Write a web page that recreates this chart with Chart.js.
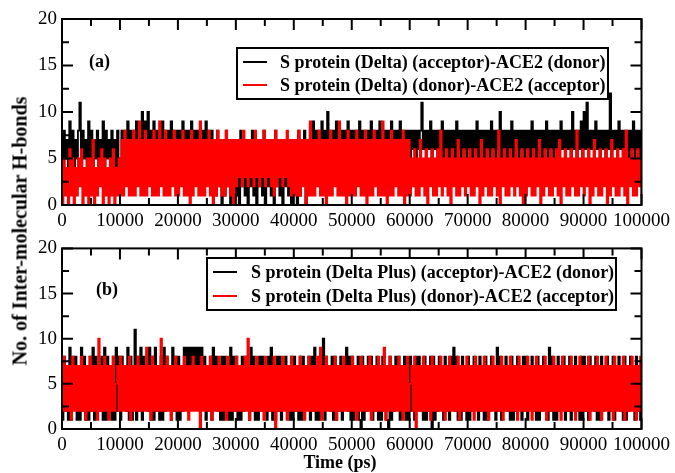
<!DOCTYPE html>
<html>
<head>
<meta charset="utf-8">
<script src="https://cdn.jsdelivr.net/npm/chart.js@4.4.0/dist/chart.umd.min.js"></script>
<style>
    html, body { margin: 0; padding: 0; background: #fff; }
    #wrap { position: relative; width: 675px; height: 473px; overflow: hidden; }
    #chartA { position: absolute; left: 0; top: 0; }
    #chartB { position: absolute; left: 0; top: 232px; }
    #ytitle {
        position: absolute; left: 20px; top: 231px;
        transform: translate(-50%, -50%) rotate(-90deg);
        font: bold 20px "Liberation Serif", "DejaVu Serif", serif;
        white-space: nowrap; color: #000;
    }
    #xtitle {
        position: absolute; left: 340px; top: 462px;
        transform: translate(-50%, -50%);
        font: bold 18px "Liberation Serif", "DejaVu Serif", serif;
        white-space: nowrap; color: #000;
    }
</style>
</head>
<body>
<div id="wrap">
    <canvas id="chartA" width="675" height="232"></canvas>
    <canvas id="chartB" width="675" height="241"></canvas>
    <div id="ytitle">No. of Inter-molecular H-bonds</div>
    <div id="xtitle">Time (ps)</div>
</div>
<script>
// simulation length and axis ticks
const simLengthPs = 100000;
const xTicks = [0, 10000, 20000, 30000, 40000, 50000, 60000, 70000, 80000, 90000, 100000];
const yTicks = [0, 5, 10, 15, 20];

const labelsA = ['S protein (Delta) (acceptor)-ACE2 (donor)', 'S protein (Delta) (donor)-ACE2 (acceptor)'];
const labelsB = ['S protein (Delta Plus) (acceptor)-ACE2 (donor)', 'S protein (Delta Plus) (donor)-ACE2 (acceptor)'];

// (a) Delta, S protein acceptor / ACE2 donor (black), one row per 10 ns
const deltaAcceptor = [
    4,8,5,7,4,9,5,8,4,7,5,8,11,4,8,5,7,4,9,5,8,4,7,5,8,4,7,5,9,4,8,5,7,4,8,5,7,4,8,5,
    5,8,6,8,5,9,6,8,5,8,6,9,5,8,6,10,5,9,6,10,5,8,6,9,5,8,6,8,5,9,6,8,5,8,6,9,5,8,6,8,
    5,8,6,9,5,8,6,8,5,9,6,8,5,8,6,8,5,8,6,9,5,8,6,8,2,7,1,8,2,6,0,7,1,8,2,7,0,6,2,7,
    1,7,0,8,2,6,1,7,0,7,2,8,1,6,0,7,2,7,1,8,0,6,2,7,1,7,0,8,2,6,1,7,0,7,2,7,1,6,0,7,
    2,7,0,8,1,7,3,8,0,7,4,8,5,9,4,8,5,8,4,9,5,8,4,10,5,8,4,8,5,9,4,8,5,8,4,8,5,9,4,8,
    5,8,4,8,5,9,4,8,5,8,4,8,5,9,4,8,5,8,4,9,5,8,4,8,5,8,4,9,5,8,4,8,5,9,4,8,5,8,4,8,
    5,8,6,8,5,8,6,8,11,6,8,5,8,6,9,5,8,6,8,5,8,6,9,5,8,6,8,5,8,6,8,5,9,6,8,5,8,6,8,5,
    8,6,8,5,8,6,9,5,8,6,8,5,8,6,8,5,9,6,8,5,8,6,10,5,8,6,8,5,8,6,9,5,8,6,8,5,8,6,8,5,
    8,6,8,5,9,6,8,5,8,6,8,5,8,6,9,5,8,6,8,5,8,6,8,5,9,6,8,5,8,6,8,5,10,6,8,5,8,6,9,5,
    10,6,11,5,8,6,8,5,9,6,8,5,8,6,8,5,8,6,12,5,8,6,8,5,9,6,8,5,8,6,8,5,8,6,9,5,8,6,8,5,8
];

// (a) Delta, S protein donor / ACE2 acceptor (red)
const deltaDonor = [
    0,5,1,4,0,6,1,5,0,4,1,5,2,6,0,4,1,5,0,5,1,7,0,4,1,5,2,6,0,5,1,4,0,5,1,6,0,4,1,5,
    1,7,1,8,2,7,1,7,1,8,1,7,2,9,1,7,1,8,1,7,2,7,1,8,1,7,1,9,2,7,1,8,1,7,1,7,2,8,1,7,
    1,7,2,8,1,7,1,7,0,8,1,7,2,7,1,9,1,7,1,7,2,8,1,7,0,7,1,8,2,7,1,7,1,8,2,7,1,7,0,7,
    2,7,3,7,2,8,3,7,2,7,3,7,2,8,3,7,2,7,3,8,2,7,3,7,2,7,1,8,2,7,3,7,2,7,3,8,2,7,1,7,
    1,7,1,8,1,7,2,7,0,7,1,9,1,7,1,7,2,8,1,7,1,7,0,7,1,8,1,7,2,7,1,9,1,7,1,7,0,8,1,7,
    1,7,1,8,2,7,1,7,1,8,0,7,1,7,1,8,2,7,1,7,1,9,1,7,0,7,1,8,1,7,2,7,1,7,1,8,0,7,1,7,
    1,5,2,6,1,5,1,7,2,5,1,6,0,5,2,6,1,5,1,6,2,8,1,5,2,6,1,5,0,6,2,5,1,7,1,5,2,6,1,5,
    2,6,1,5,1,6,2,5,0,7,1,5,2,6,1,5,1,6,2,5,1,8,0,5,2,6,1,5,1,6,2,5,1,7,2,5,1,6,0,5,
    1,6,2,5,1,6,1,5,2,7,0,5,1,6,2,5,1,6,1,5,2,6,1,7,0,5,2,6,1,5,1,6,2,5,1,8,1,5,2,6,
    1,5,2,6,0,5,1,7,2,5,1,6,1,5,2,6,0,5,1,7,2,5,1,6,1,5,2,6,1,8,0,5,2,6,1,5,1,6,2,5,1
];

// (b) Delta Plus, S protein acceptor / ACE2 donor (black)
const deltaPlusAcceptor = [
    1,8,2,7,1,9,1,8,3,8,1,7,1,9,2,8,1,7,1,8,2,9,1,8,3,7,2,8,1,9,1,8,2,7,1,8,1,9,2,8,
    1,8,3,7,2,9,1,8,1,7,11,1,8,2,9,1,8,3,7,2,9,1,8,1,9,2,7,1,8,1,9,2,8,3,7,1,9,2,8,1,
    8,1,7,2,9,6,9,6,9,7,9,6,9,6,9,7,9,6,8,1,7,2,8,1,9,3,8,2,7,1,8,1,8,2,7,1,9,1,8,2,
    8,1,7,1,8,2,8,3,7,1,9,2,8,1,7,1,8,2,8,3,7,1,8,2,9,1,7,1,8,2,8,1,7,3,8,2,7,1,8,1,
    8,2,7,1,8,1,8,2,7,3,8,1,8,2,9,1,7,1,8,2,10,1,8,3,7,2,8,1,8,1,7,2,8,1,7,3,9,2,8,1,
    8,1,7,2,8,1,0,8,1,7,2,8,3,8,1,7,2,8,1,7,1,8,2,7,1,0,8,1,7,2,8,3,8,1,7,2,8,1,7,1,
    8,2,7,1,8,3,8,2,7,1,8,1,7,2,8,0,8,1,7,2,8,3,7,1,8,2,7,1,8,3,9,2,8,1,7,1,8,2,7,1,
    8,1,7,2,8,3,7,1,8,2,7,1,8,1,7,2,8,3,7,1,9,2,8,1,7,3,8,2,7,1,8,1,7,2,8,3,7,1,8,2,
    8,1,7,3,8,2,7,1,8,1,7,2,8,3,7,1,9,2,8,1,7,1,8,2,7,3,8,1,7,2,8,1,7,3,8,2,7,1,8,1,
    8,2,7,1,8,3,7,2,8,1,7,1,8,2,7,3,8,1,7,2,8,1,7,3,8,2,7,1,8,1,7,2,8,3,7,1,8,2,7,1,8
];

// (b) Delta Plus, S protein donor / ACE2 acceptor (red)
const deltaPlusDonor = [
    2,8,2,7,2,7,1,8,2,7,2,7,2,8,2,7,1,7,2,8,2,7,2,7,1,10,2,7,2,8,2,7,1,7,2,8,2,5,7,2,
    8,2,7,2,7,2,8,1,7,2,7,2,8,2,7,2,7,2,9,2,7,1,8,2,7,2,7,2,10,2,7,2,8,2,7,1,7,2,8,2,
    7,2,7,2,8,2,7,1,7,2,8,2,7,2,7,0,8,2,7,2,7,2,8,1,7,2,7,2,8,2,7,2,7,1,8,2,7,2,7,2,
    8,2,7,2,7,2,8,2,10,1,7,2,7,2,8,2,7,2,7,1,8,2,7,2,7,2,8,0,7,2,7,2,8,2,7,1,7,2,8,2,
    7,2,7,2,8,2,7,1,7,2,8,2,7,2,7,2,8,2,9,1,7,2,8,2,7,2,7,2,8,1,7,2,7,2,8,2,7,2,7,2,
    8,2,7,1,7,2,8,2,7,2,7,2,8,1,7,2,7,2,8,2,7,2,9,1,7,2,8,2,7,2,7,2,8,2,7,1,7,2,8,2,
    5,7,2,8,0,7,2,7,2,8,2,7,2,7,1,8,2,7,2,7,2,8,2,7,1,7,2,8,2,7,2,7,2,8,1,7,2,7,2,8,
    2,7,2,7,1,8,2,7,2,7,2,8,2,7,1,7,2,8,2,7,2,7,2,8,1,7,2,7,2,8,2,7,2,7,1,8,2,7,2,7,
    2,8,2,7,1,7,2,8,2,7,2,7,2,8,1,7,2,7,2,8,2,7,2,7,1,8,2,7,2,7,2,8,2,7,1,7,2,8,2,7,
    2,7,2,8,1,7,2,7,2,8,2,7,1,7,2,8,2,7,2,7,1,8,2,7,2,7,2,8,1,7,2,7,2,8,2,7,1,7,2,8,2
];

const serif = '"Liberation Serif", "DejaVu Serif", serif';

function toPoints(values) {
    const dt = simLengthPs / (values.length - 1);
    return values.map((v, i) => ({ x: i * dt, y: v }));
}

// inward ticks on all four sides plus the frame, xmgrace style
const frameTicks = {
    id: 'frameTicks',
    afterDatasetsDraw(chart) {
        const { ctx, chartArea: a, scales } = chart;
        const x = scales.x, y = scales.y;
        ctx.save();
        ctx.strokeStyle = '#000';
        ctx.lineWidth = 2;
        ctx.beginPath();
        for (let i = 0; i < xTicks.length; i++) {
            const major = x.getPixelForValue(xTicks[i]);
            ctx.moveTo(major, a.bottom); ctx.lineTo(major, a.bottom - 11);
            ctx.moveTo(major, a.top); ctx.lineTo(major, a.top + 11);
            if (i < xTicks.length - 1) {
                const minor = x.getPixelForValue((xTicks[i] + xTicks[i + 1]) / 2);
                ctx.moveTo(minor, a.bottom); ctx.lineTo(minor, a.bottom - 7);
                ctx.moveTo(minor, a.top); ctx.lineTo(minor, a.top + 7);
            }
        }
        for (let i = 0; i < yTicks.length; i++) {
            const major = y.getPixelForValue(yTicks[i]);
            ctx.moveTo(a.left, major); ctx.lineTo(a.left + 11, major);
            ctx.moveTo(a.right, major); ctx.lineTo(a.right - 11, major);
            if (i < yTicks.length - 1) {
                const minor = y.getPixelForValue((yTicks[i] + yTicks[i + 1]) / 2);
                ctx.moveTo(a.left, minor); ctx.lineTo(a.left + 7, minor);
                ctx.moveTo(a.right, minor); ctx.lineTo(a.right - 7, minor);
            }
        }
        ctx.stroke();
        ctx.strokeRect(a.left, a.top, a.right - a.left, a.bottom - a.top);
        ctx.restore();
    }
};

// boxed legend and panel tag inside the plot
const boxLegend = {
    id: 'boxLegend',
    afterDraw(chart, args, opts) {
        const { ctx } = chart;
        const [l, t, r, b] = opts.box;
        ctx.save();
        ctx.fillStyle = '#fff';
        ctx.fillRect(l, t, r - l, b - t);
        ctx.strokeStyle = '#000';
        ctx.lineWidth = 2;
        ctx.strokeRect(l, t, r - l, b - t);
        ctx.font = 'bold ' + opts.fontSize + 'px ' + serif;
        ctx.textBaseline = 'middle';
        ctx.textAlign = 'left';
        chart.data.datasets.forEach((ds, i) => {
            const rowY = opts.rows[i];
            ctx.strokeStyle = ds.borderColor;
            ctx.lineWidth = 2;
            ctx.beginPath();
            ctx.moveTo(l + 6, rowY);
            ctx.lineTo(l + 30, rowY);
            ctx.stroke();
            ctx.fillStyle = '#000';
            ctx.fillText(ds.label, l + opts.textOffset, rowY + 1);
        });
        ctx.font = 'bold 18px ' + serif;
        ctx.fillText(opts.tag, opts.tagPos[0], opts.tagPos[1]);
        ctx.restore();
    }
};

function makePanel(canvas, blackValues, redValues, labels, cfg) {
    return new Chart(canvas, {
        type: 'line',
        data: {
            datasets: [
                {
                    label: labels[0],
                    data: toPoints(blackValues),
                    borderColor: '#000000',
                    borderWidth: 1.8,
                    pointRadius: 0,
                    stepped: true,
                    order: 2,
                },
                {
                    label: labels[1],
                    data: toPoints(redValues),
                    borderColor: '#ff0000',
                    borderWidth: 1.8,
                    pointRadius: 0,
                    stepped: true,
                    order: 1,
                },
            ],
        },
        options: {
            responsive: false,
            animation: false,
            events: [],
            layout: { padding: { top: cfg.padTop, right: 33, left: 0, bottom: 0 } },
            plugins: {
                legend: { display: false },
                tooltip: { enabled: false },
                boxLegend: cfg.legend,
            },
            scales: {
                x: {
                    type: 'linear',
                    min: 0,
                    max: simLengthPs,
                    grid: { display: false, drawTicks: false },
                    border: { display: false },
                    afterBuildTicks: (s) => { s.ticks = xTicks.map((v) => ({ value: v })); },
                    afterFit: (s) => { s.height = cfg.xHeight; },
                    ticks: {
                        color: '#000',
                        font: { family: serif, size: 19 },
                        padding: 5,
                        maxRotation: 0,
                        autoSkip: false,
                        callback: (v) => String(v),
                    },
                },
                y: {
                    min: 0,
                    max: 20,
                    grid: { display: false, drawTicks: false },
                    border: { display: false },
                    afterBuildTicks: (s) => { s.ticks = yTicks.map((v) => ({ value: v })); },
                    afterFit: (s) => { s.width = 62; },
                    ticks: {
                        color: '#000',
                        font: { family: serif, size: 19 },
                        padding: 5,
                        callback: (v) => String(v),
                    },
                },
            },
        },
        plugins: [frameTicks, boxLegend],
    });
}

makePanel(document.getElementById('chartA'), deltaAcceptor, deltaDonor, labelsA, {
    padTop: 19,
    xHeight: 27,
    legend: { box: [237, 48, 608, 99], rows: [62, 85], textOffset: 43, fontSize: 18, tag: '(a)', tagPos: [89, 62] },
});

makePanel(document.getElementById('chartB'), deltaPlusAcceptor, deltaPlusDonor, labelsB, {
    padTop: 10,
    xHeight: 44,
    legend: { box: [207, 26, 616, 78], rows: [40, 64], textOffset: 44, fontSize: 18, tag: '(b)', tagPos: [96, 58] },
});
</script>
</body>
</html>
